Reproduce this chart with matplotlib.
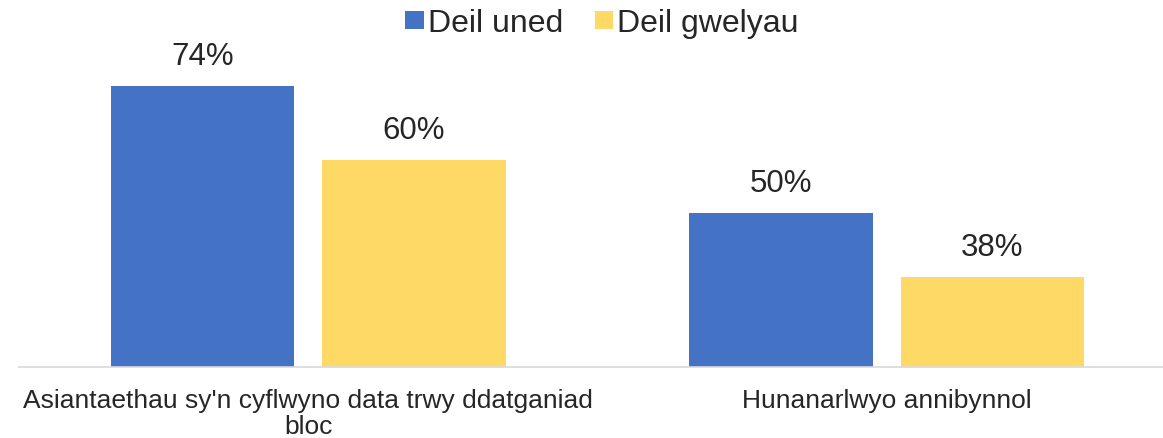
import matplotlib
matplotlib.use("Agg")
import matplotlib.pyplot as plt
import numpy as np

categories = ["Asiantaethau sy'n cyflwyno data trwy ddatganiad\nbloc", "Hunanarlwyo annibynnol"]
series_names = ["Deil uned", "Deil gwelyau"]
deil_uned = [74, 50]
deil_gwelyau = [60, 38]

plt.rcParams['font.family'] = ['Liberation Sans', 'DejaVu Sans']

W, H = 1163, 439
fig = plt.figure(figsize=(W / 100, H / 100), dpi=100)

# axes placed in pixel terms: left edge at x=19, baseline at y=368
ax_left, ax_right = 19, 1163
ax_top, ax_bottom = 20, 368
ax = fig.add_axes([ax_left / W, 1 - ax_bottom / H, (ax_right - ax_left) / W, (ax_bottom - ax_top) / H])

px_per_unit = 578.5
ymin = 21
px_per_pct = 5.3
ax.set_xlim(-0.5, -0.5 + (ax_right - ax_left) / px_per_unit)
ax.set_ylim(ymin, ymin + (ax_bottom - ax_top) / px_per_pct)

x = np.arange(len(categories))
width = 0.317
offset = 0.1825
b1 = ax.bar(x - offset, deil_uned, width, bottom=0, color='#4472C4', label=series_names[0])
b2 = ax.bar(x + offset, deil_gwelyau, width, bottom=0, color='#FFD966', label=series_names[1])

for bars, vals in [(b1, deil_uned), (b2, deil_gwelyau)]:
    for rect, v in zip(bars, vals):
        ax.annotate(f"{v}%", (rect.get_x() + rect.get_width() / 2, v),
                    xytext=(0, 15.8), textcoords='offset points',
                    ha='center', va='baseline', fontsize=22.5, color='#262626')

ax.set_xticks(x)
ax.set_xticklabels(categories, fontsize=19, color='#262626', linespacing=1.1)
ax.tick_params(axis='x', length=0, pad=15)
ax.set_yticks([])
for s in ['top', 'right', 'left']:
    ax.spines[s].set_visible(False)
ax.spines['bottom'].set_color('#d9d9d9')
ax.spines['bottom'].set_linewidth(1.2)

fig.legend(loc='center', bbox_to_anchor=(602 / W, 1 - 24 / H), ncol=2, frameon=False,
           fontsize=23, handlelength=0.58, handleheight=0.5, handletextpad=0.12,
           columnspacing=1.0, labelcolor='#262626', borderaxespad=0)

fig.savefig("out.png", dpi=100)
